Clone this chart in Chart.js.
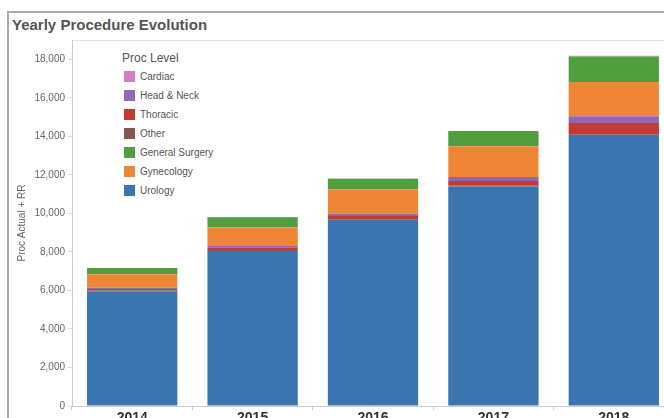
<!DOCTYPE html>
<html>
<head>
<meta charset="utf-8">
<script src="https://cdn.jsdelivr.net/npm/chart.js@4"></script>
<style>
  html, body { margin: 0; padding: 0; width: 664px; height: 418px; overflow: hidden; background: #fff; }
  #frame { position: absolute; left: 7px; top: 11px; width: 700px; height: 460px; border: 2px solid #aaa; box-sizing: border-box; }
  #title { position: absolute; left: 12px; top: 16px; font: bold 15px 'Liberation Sans', Arial, sans-serif; color: #555; white-space: nowrap; }
  #wrap { position: absolute; left: 0; top: 0; width: 690px; height: 440px; }
  #legend { position: absolute; left: 97px; top: 41px; width: 140px; height: 162px; background: #fff; font-family: 'Liberation Sans', Arial, sans-serif; }
  #legend .head { position: absolute; left: 25px; top: 10px; font-size: 12px; color: #555; }
  #legend .item { position: absolute; left: 27px; height: 12px; font-size: 10px; color: #555; line-height: 12px; white-space: nowrap; }
  #legend .sw { display: inline-block; width: 11px; height: 11px; vertical-align: top; margin-right: 5px; }
</style>
</head>
<body>
<div id="frame"></div>
<div id="title">Yearly Procedure Evolution</div>
<div id="wrap"><canvas id="chart"></canvas></div>
<div id="legend"></div>
<script>
// Data (stack order, bottom to top)
const years = ['2014', '2015', '2016', '2017', '2018'];
const urology = [5930, 8040, 9650, 11395, 14070];
const other = [70, 60, 40, 40, 40];
const thoracic = [80, 110, 170, 250, 580];
const headNeck = [70, 90, 120, 207, 346];
const gynecology = [690, 970, 1265, 1590, 1780];
const generalSurgery = [320, 530, 550, 790, 1333];
const cardiac = [10, 10, 10, 10, 30];
const yTicks = [0, 2000, 4000, 6000, 8000, 10000, 12000, 14000, 16000, 18000];

const legendOrder = ['Cardiac', 'Head & Neck', 'Thoracic', 'Other', 'General Surgery', 'Gynecology', 'Urology'];

const series = [
    { label: 'Urology', data: urology, color: '#3b75af' },
    { label: 'Other', data: other, color: '#84584e' },
    { label: 'Thoracic', data: thoracic, color: '#c53a32' },
    { label: 'Head & Neck', data: headNeck, color: '#8d6ab8' },
    { label: 'Gynecology', data: gynecology, color: '#ef8636' },
    { label: 'General Surgery', data: generalSurgery, color: '#519e3e' },
    { label: 'Cardiac', data: cardiac, color: '#d57dbf' }
];

// light line along the top of the view
const topLine = {
    id: 'topLine',
    beforeDraw(chart) {
        const { ctx, chartArea } = chart;
        ctx.save();
        ctx.strokeStyle = '#e2e2e2';
        ctx.lineWidth = 1;
        ctx.beginPath();
        ctx.moveTo(chartArea.left, chartArea.top + 0.5);
        ctx.lineTo(chart.width, chartArea.top + 0.5);
        ctx.stroke();
        ctx.restore();
    }
};

const ctx = document.getElementById('chart').getContext('2d');
new Chart(ctx, {
    type: 'bar',
    data: {
        labels: years,
        datasets: series.map(s => ({
            label: s.label,
            data: s.data,
            backgroundColor: s.color,
            borderWidth: 0,
            barPercentage: 0.75,
            categoryPercentage: 1
        }))
    },
    options: {
        responsive: true,
        maintainAspectRatio: false,
        animation: false,
        layout: { padding: { left: 8, right: 16, top: 40, bottom: 0 } },
        plugins: { legend: { display: false }, tooltip: { enabled: false } },
        scales: {
            x: {
                stacked: true,
                afterFit: s => { s.height = 34; },
                grid: { offset: true, drawOnChartArea: false, tickLength: 4, color: '#ccc' },
                border: { color: '#ccc' },
                ticks: { padding: 0, color: '#333', font: { family: 'Liberation Sans', size: 14, weight: 'bold' } }
            },
            y: {
                stacked: true,
                min: 0,
                max: 19000,
                afterFit: s => { s.width = 64; },
                afterBuildTicks: s => { s.ticks = yTicks.map(v => ({ value: v })); },
                grid: { drawOnChartArea: false, tickLength: 4, color: '#ddd' },
                border: { color: '#ccc' },
                ticks: {
                    padding: 3,
                    color: '#666',
                    font: { family: 'Liberation Sans', size: 10 },
                    callback: v => v.toLocaleString('en-US')
                },
                title: {
                    display: true,
                    text: 'Proc Actual + RR',
                    color: '#666',
                    font: { family: 'Liberation Sans', size: 10 },
                    padding: { top: 8, bottom: 0 }
                }
            }
        }
    },
    plugins: [topLine]
});

// legend, Tableau order
const legend = document.getElementById('legend');
legend.innerHTML = '<div class="head">Proc Level</div>';
legendOrder.forEach((name, i) => {
    const s = series.find(d => d.label === name);
    const item = document.createElement('div');
    item.className = 'item';
    item.style.top = (30 + i * 19) + 'px';
    item.innerHTML = `<span class="sw" style="background:${s.color}"></span>${name}`;
    legend.appendChild(item);
});
</script>
</body>
</html>
